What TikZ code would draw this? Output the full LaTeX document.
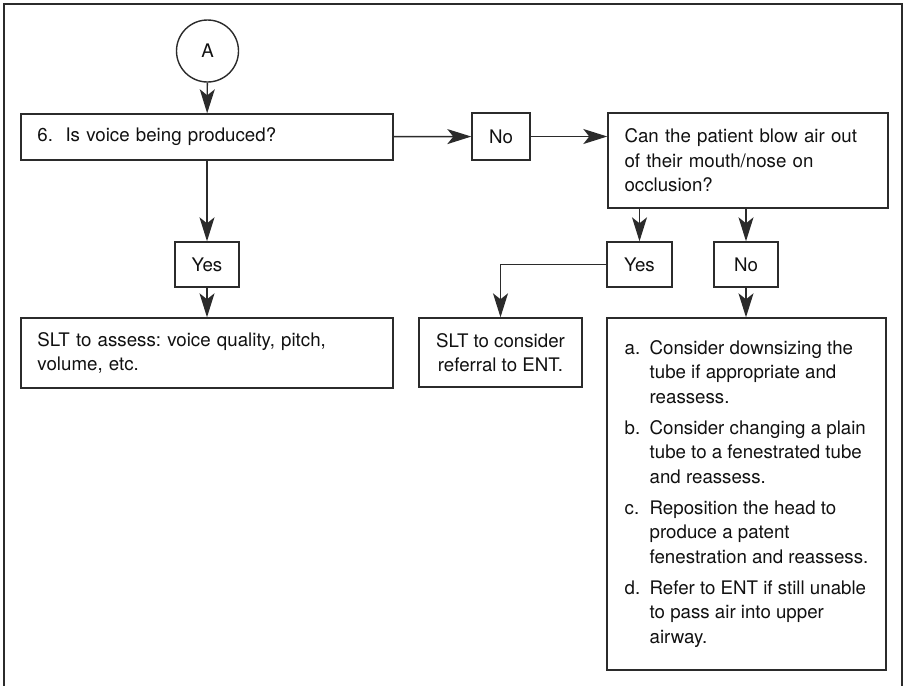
\documentclass[tikz,border=0pt]{standalone}
\usepackage{fontspec}
\setmainfont{TeX Gyre Heros}
\usetikzlibrary{arrows.meta}
\definecolor{ln}{HTML}{2B2B2B}
\definecolor{tx}{HTML}{111111}
\tikzset{
  bx/.style={draw=ln, line width=1.4pt, inner sep=0pt, text=tx,
    font=\fontsize{18.7}{24.5}\selectfont\frenchspacing},
  lbox/.style={bx, align=left, inner xsep=16.5pt, text width=#1},
  arr/.style={draw=ln, line width=1.4pt,
    -{Stealth[length=24pt,width=15pt,inset=6pt]}},
}
\begin{document}
\begin{tikzpicture}[x=1pt,y=-1pt]
\useasboundingbox (0,0) rectangle (906,686);
\draw[draw=ln, line width=2pt] (3.5,686) -- (3.5,3.5) -- (902,3.5) -- (902,686);

\node[bx, circle, minimum size=62pt] (A) at (207.5,51) {A};
\node[lbox=339pt, minimum height=46pt] (b6) at (207,137) {6.\ \ Is voice being produced?};
\node[bx, minimum width=58pt, minimum height=47pt] (no1) at (501,136.5) {No};
\node[lbox=247pt, minimum height=95pt] (q) at (748,160.5)
  {Can the patient blow air out\\ of their mouth/nose on\\ occlusion?};
\node[bx, minimum width=64pt, minimum height=45pt] (yes1) at (207,264.5) {Yes};
\node[lbox=339pt, minimum height=70pt] (slt1) at (207,353)
  {SLT to assess: voice quality, pitch,\\ volume, etc.};
\node[bx, minimum width=65pt, minimum height=45pt] (yes2) at (639.5,264.5) {Yes};
\node[bx, minimum width=64pt, minimum height=45pt] (no2) at (746,264.5) {No};
\node[bx, align=center, minimum width=163pt, minimum height=69pt] (slt2) at (500.5,352.5)
  {SLT to consider\\ referral to ENT.};
\node[bx, minimum width=279pt, minimum height=352pt, align=left] (big) at (746.5,494)
  {\begin{tabular}{@{}p{25pt}@{}l@{}}
   a. & Consider downsizing the\\
      & tube if appropriate and\\
      & reassess.\\[6.5pt]
   b. & Consider changing a plain\\
      & tube to a fenestrated tube\\
      & and reassess.\\[6.5pt]
   c. & Reposition the head to\\
      & produce a patent\\
      & fenestration and reassess.\\[6.5pt]
   d. & Refer to ENT if still unable\\
      & to pass air into upper\\
      & airway.
   \end{tabular}};

\draw[arr] (A) -- (b6);
\draw[arr] (b6) -- (no1);
\draw[arr] (no1) -- (q.west |- no1);
\draw[arr] (b6) -- (yes1);
\draw[arr] (yes1) -- (slt1);
\draw[arr] (yes2.north |- q.south) -- (yes2.north);
\draw[arr] (no2.north |- q.south) -- (no2.north);
\draw[arr] (yes2.west) -| (slt2.north);
\draw[arr] (no2.south) -- (no2.south |- big.north);
\end{tikzpicture}
\end{document}
